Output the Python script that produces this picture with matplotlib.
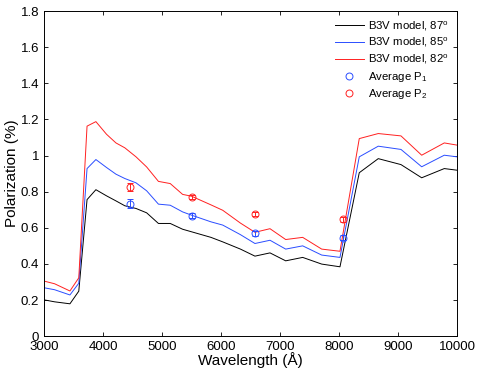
import matplotlib
matplotlib.use("Agg")
import numpy as np
import matplotlib.pyplot as plt
from matplotlib.lines import Line2D

plt.rcParams['font.family'] = ['Liberation Sans', 'DejaVu Sans']
plt.rcParams['mathtext.fontset'] = 'custom'
plt.rcParams['mathtext.rm'] = 'Liberation Sans'
plt.rcParams['mathtext.it'] = 'Liberation Sans'

# model wavelengths (Angstrom)
wave = [3000, 3180, 3440, 3590, 3730, 3880, 4060, 4220, 4370, 4560, 4740,
        4940, 5140, 5350, 5500, 5830, 6030, 6330, 6576, 6831, 7097, 7385,
        7707, 8017, 8344, 8666, 9051, 9402, 9785, 10000]

pol_87 = [0.201, 0.19, 0.179, 0.249, 0.756, 0.811, 0.777, 0.749, 0.722, 0.707,
          0.683, 0.624, 0.624, 0.592, 0.578, 0.547, 0.522, 0.482, 0.443, 0.461,
          0.417, 0.436, 0.399, 0.384, 0.905, 0.983, 0.950, 0.877, 0.928, 0.919]
pol_85 = [0.268, 0.257, 0.228, 0.293, 0.928, 0.978, 0.934, 0.897, 0.873, 0.849,
          0.805, 0.731, 0.725, 0.688, 0.670, 0.633, 0.615, 0.562, 0.513, 0.531,
          0.482, 0.500, 0.449, 0.436, 0.993, 1.052, 1.034, 0.938, 1.002, 0.993]
pol_82 = [0.305, 0.29, 0.25, 0.323, 1.163, 1.188, 1.118, 1.07, 1.043, 0.993,
          0.937, 0.857, 0.845, 0.785, 0.775, 0.727, 0.697, 0.626, 0.575, 0.595,
          0.535, 0.547, 0.482, 0.47, 1.094, 1.122, 1.109, 1.002, 1.07, 1.058]

# observed band averages
band_wave = [4450, 5510, 6580, 8060]
p1 = [0.733, 0.668, 0.570, 0.546]
p1_err = [0.025, 0.012, 0.015, 0.015]
p2 = [0.826, 0.772, 0.678, 0.646]
p2_err = [0.022, 0.012, 0.012, 0.012]

BLUE = '#2a4dff'
RED = '#ff2020'

fig = plt.figure(figsize=(4.78, 3.71), dpi=100)
ax = fig.add_axes([0.092, 0.094, 0.864, 0.876])

l1, = ax.plot(wave, pol_87, color='k', lw=0.7)
l2, = ax.plot(wave, pol_85, color=BLUE, lw=0.7)
l3, = ax.plot(wave, pol_82, color=RED, lw=0.7)
ax.errorbar(band_wave, p1, yerr=p1_err, fmt='o', mfc='none', mec=BLUE,
            ecolor=BLUE, ms=5, mew=0.7, elinewidth=0.7, capsize=2)
ax.errorbar(band_wave, p2, yerr=p2_err, fmt='o', mfc='none', mec=RED,
            ecolor=RED, ms=5, mew=0.7, elinewidth=0.7, capsize=2)

ax.set_xlim(3000, 10000)
ax.set_ylim(0, 1.8)
ax.set_xticks(np.arange(3000, 10001, 1000))
ax.set_yticks(np.arange(0, 1.81, 0.2))
ax.set_yticklabels(['0', '0.2', '0.4', '0.6', '0.8', '1', '1.2', '1.4', '1.6', '1.8'])
ax.tick_params(direction='in', top=True, right=True, labelsize=9.5, length=3, width=0.6)
for s in ax.spines.values():
    s.set_linewidth(0.7)

ax.set_xlabel('Wavelength (Å)', fontsize=11, labelpad=-1)
ax.set_ylabel('Polarization (%)', fontsize=11, labelpad=1)

m1 = Line2D([], [], ls='none', marker='o', mfc='none', mec=BLUE, ms=5, mew=0.7)
m2 = Line2D([], [], ls='none', marker='o', mfc='none', mec=RED, ms=5, mew=0.7)
ax.legend([l1, l2, l3, m1, m2],
          ['B3V model, 87$^{o}$', 'B3V model, 85$^{o}$', 'B3V model, 82$^{o}$',
           'Average P$_1$', 'Average P$_2$'],
          loc='upper right', frameon=False, fontsize=8.2, handlelength=2.5,
          labelspacing=0.3, borderaxespad=0.3, handletextpad=0.4)

fig.savefig('out.png', dpi=100)
